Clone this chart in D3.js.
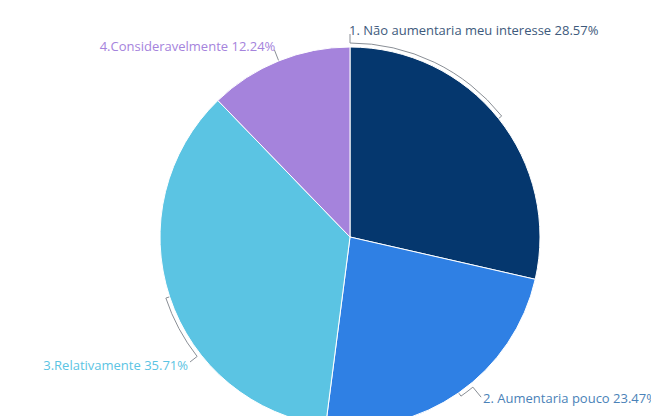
<!DOCTYPE html>
<html>
<head>
<meta charset="utf-8">
<script src="https://cdn.jsdelivr.net/npm/d3@7"></script>
<style>
  html, body { margin: 0; padding: 0; background: #fff; }
  svg { display: block; }
  text { font-family: "Open Sans", "Noto Sans", sans-serif; font-size: 13px; }
</style>
</head>
<body>
<svg id="chart" width="651" height="416"></svg>
<script>
// ---- data ----
const categories = [
  "1. Não aumentaria meu interesse",
  "2. Aumentaria pouco",
  "3.Relativamente",
  "4.Consideravelmente"
];
const values = [28.57, 23.47, 35.71, 12.24];
const percentLabels = ["28.57%", "23.47%", "35.71%", "12.24%"];
const sliceColors = ["#05376e", "#2f80e4", "#5bc4e3", "#a583dc"];
const textColors = ["#3e5a7c", "#4a82b8", "#5bc4e3", "#a583dc"];

// ---- layout (label placement, in degrees clockwise from top) ----
const labelLayout = [
  { angle: 0,     r: 203, anchor: "start", dx: -1, dy: 1 },
  { angle: 140.7, r: 207, anchor: "start", dx: 2,  dy: 6 },
  { angle: 232,   r: 203, anchor: "end",   dx: -2, dy: 8 },
  { angle: 338,   r: 202, anchor: "end",   dx: 1,  dy: 1 }
];

const width = 651, height = 416;
const cx = 350, cy = 237, radius = 190;
const svg = d3.select("#chart");
const g = svg.append("g").attr("transform", `translate(${cx},${cy})`);

const data = categories.map((c, i) => ({ name: c, value: values[i], pct: percentLabels[i], i }));
const pie = d3.pie().value(d => d.value).sort(null);
const arcs = pie(data);
const arcGen = d3.arc().innerRadius(0).outerRadius(radius);

g.selectAll("path.slice")
  .data(arcs)
  .join("path")
  .attr("class", "slice")
  .attr("d", arcGen)
  .attr("fill", d => sliceColors[d.data.i])
  .attr("stroke", "#fff")
  .attr("stroke-width", 1);

const rad = a => a * Math.PI / 180;
const pt = (angleRad, r) => [Math.sin(angleRad) * r, -Math.cos(angleRad) * r];

const lineR = radius + 4;
arcs.forEach(d => {
  const lay = labelLayout[d.data.i];
  const mid = (d.startAngle + d.endAngle) / 2;
  const la = rad(lay.angle);
  const p = d3.path();
  let [x0, y0] = pt(mid, radius + 0.5);
  p.moveTo(x0, y0);
  if (Math.abs(la - mid) > 0.01) {
    let [x1, y1] = pt(mid, lineR);
    p.lineTo(x1, y1);
    const sA = mid - Math.PI / 2, eA = la - Math.PI / 2;
    p.arc(0, 0, lineR, sA, eA, la < mid);
  }
  const [xa, ya] = pt(la, lay.r);
  p.lineTo(xa, ya);
  g.append("path")
    .attr("d", p.toString())
    .attr("fill", "none")
    .attr("stroke", "#8a8f96")
    .attr("stroke-width", 1);

  g.append("text")
    .attr("x", xa + lay.dx)
    .attr("y", ya + lay.dy)
    .attr("text-anchor", lay.anchor)
    .attr("fill", textColors[d.data.i])
    .text(d.data.name + " " + d.data.pct);
});
</script>
</body>
</html>
